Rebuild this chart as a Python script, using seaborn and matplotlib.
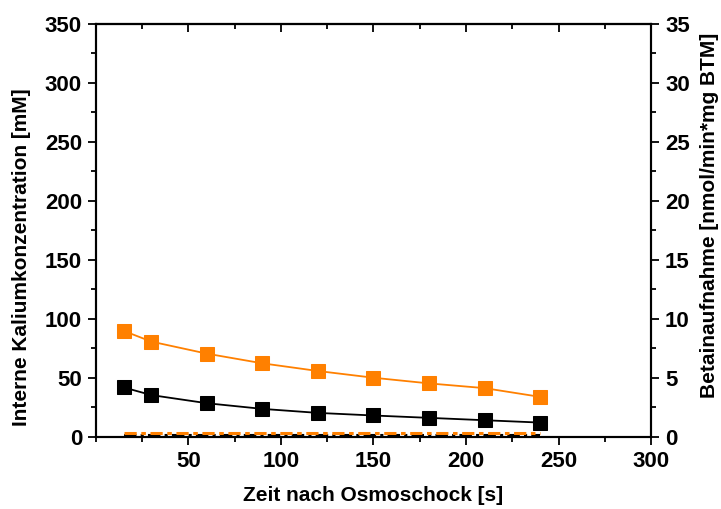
import matplotlib
matplotlib.use("Agg")
import matplotlib.pyplot as plt
import seaborn as sns
from matplotlib.ticker import MultipleLocator

# time after osmotic shock [s]
zeit = [15, 30, 60, 90, 120, 150, 180, 210, 240]
# internal potassium concentration [mM]
kalium_orange = [89.9, 80.8, 70.6, 62.4, 55.9, 50.2, 45.4, 41.4, 34.0]
kalium_schwarz = [42.0, 35.5, 28.6, 23.8, 20.4, 18.2, 16.2, 14.2, 12.2]
# betaine uptake [nmol/min*mg BTM]
betain_orange = [0.36, 0.36, 0.36, 0.36, 0.36, 0.36, 0.36, 0.36, 0.36]
betain_schwarz = [0.2, 0.2, 0.2, 0.2, 0.2, 0.2, 0.2, 0.2, 0.2]

ORANGE = "#ff8000"

sns.set_style("ticks")
plt.rcParams["font.family"] = ["Liberation Sans", "DejaVu Sans"]
plt.rcParams["font.weight"] = "bold"
plt.rcParams["text.color"] = "black"
plt.rcParams["axes.labelcolor"] = "black"
plt.rcParams["xtick.color"] = "black"
plt.rcParams["ytick.color"] = "black"

fig = plt.figure(figsize=(7.21, 5.09), dpi=100)
ax = fig.add_axes([0.133, 0.1415, 0.77, 0.8115])
ax2 = ax.twinx()

sns.lineplot(x=zeit, y=kalium_orange, ax=ax, color=ORANGE, marker="s",
             markersize=10, markeredgecolor=ORANGE, linewidth=1.3)
sns.lineplot(x=zeit, y=kalium_schwarz, ax=ax, color="black", marker="s",
             markersize=10, markeredgecolor="black", linewidth=1.3)

sns.lineplot(x=zeit, y=betain_schwarz, ax=ax2, color="black", linewidth=1.5,
             linestyle=(0, (6, 2, 1.5, 2)))
sns.lineplot(x=zeit, y=betain_orange, ax=ax2, color=ORANGE, linewidth=2.2,
             linestyle=(0, (4, 1.5, 1.5, 1.5)))

ax.set_xlim(0, 300)
ax.set_ylim(0, 350)
ax2.set_ylim(0, 35)

ax.xaxis.set_major_locator(MultipleLocator(50))
ax.xaxis.set_minor_locator(MultipleLocator(25))
ax.yaxis.set_major_locator(MultipleLocator(50))
ax.yaxis.set_minor_locator(MultipleLocator(25))
ax2.yaxis.set_major_locator(MultipleLocator(5))
ax2.yaxis.set_minor_locator(MultipleLocator(2.5))

ax.set_xticks([50, 100, 150, 200, 250, 300])

for a in (ax, ax2):
    for s in a.spines.values():
        s.set_visible(True)
        s.set_linewidth(1.5)
        s.set_color("black")

ax.tick_params(axis="both", which="major", direction="out", length=6, width=1.3,
               labelsize=16, colors="black", pad=4)
ax.tick_params(axis="both", which="minor", direction="out", length=3.5, width=1.3)
ax2.tick_params(axis="y", which="major", direction="out", length=6, width=1.3,
                labelsize=16, colors="black", pad=4)
ax2.tick_params(axis="y", which="minor", direction="out", length=3.5, width=1.3)

top = ax.secondary_xaxis("top")
top.xaxis.set_major_locator(MultipleLocator(50))
top.xaxis.set_minor_locator(MultipleLocator(25))
top.tick_params(which="major", direction="in", length=6, width=1.3, labeltop=False)
top.tick_params(which="minor", direction="in", length=3.5, width=1.3)
top.spines["top"].set_linewidth(1.5)

ax.set_xlabel("Zeit nach Osmoschock [s]", fontsize=15, fontweight="bold", labelpad=10)
ax.set_ylabel("Interne Kaliumkonzentration [mM]", fontsize=15, fontweight="bold")
ax2.set_ylabel("Betainaufnahme [nmol/min*mg BTM]", fontsize=15, fontweight="bold")
ax.yaxis.set_label_coords(-0.117, 0.436)
ax2.yaxis.set_label_coords(1.088, 0.5375)

fig.savefig("out.png", dpi=100)
